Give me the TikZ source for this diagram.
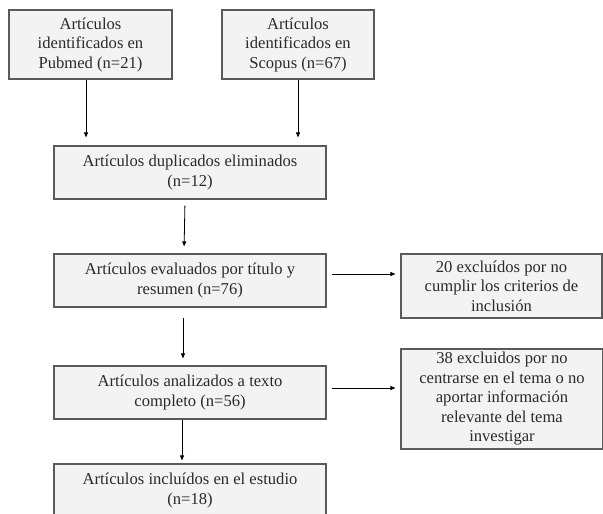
\documentclass[tikz,border=0pt]{standalone}
\usepackage{fontspec}
\setmainfont{Liberation Serif}
\usetikzlibrary{arrows.meta}
\definecolor{boxfill}{HTML}{F3F3F3}
\definecolor{boxline}{HTML}{5A5A5A}
\definecolor{txt}{HTML}{2A2A2A}
\begin{document}
\begin{tikzpicture}[x=1pt,y=-1pt,
  box/.style={draw=boxline,line width=1.2pt,fill=boxfill,text=txt,align=center,
    inner sep=0pt,font=\fontsize{16.6}{19.5}\selectfont},
  arr/.style={draw=black,line width=0.8pt,-{Triangle[length=5pt,width=4pt]}}]
\useasboundingbox (0,0) rectangle (603,514);
\node[box,minimum width=163pt,minimum height=69pt] (pub) at (90.5,44.5) {Artículos\\identificados en\\Pubmed (n=21)};
\node[box,minimum width=152pt,minimum height=69pt] (sco) at (298,44.5) {Artículos\\identificados en\\Scopus (n=67)};
\node[box,minimum width=272pt,minimum height=53pt] (dup) at (190,172.5) {Artículos duplicados eliminados\\(n=12)};
\node[box,minimum width=272pt,minimum height=53pt] (eva) at (190,280.5) {Artículos evaluados por título y\\resumen (n=76)};
\node[box,minimum width=201pt,minimum height=64pt] (ex1) at (501.5,286) {20 excluídos por no\\cumplir los criterios de\\inclusión};
\node[box,minimum width=272pt,minimum height=53pt] (ana) at (190,392.5) {Artículos analizados a texto\\completo (n=56)};
\node[box,minimum width=202pt,minimum height=100pt] (ex2) at (502,399) {38 excluidos por no\\centrarse en el tema o no\\aportar información\\relevante del tema\\investigar};
\node[box,minimum width=272pt,minimum height=53pt] (inc) at (190,490.5) {Artículos incluídos en el estudio\\(n=18)};
\draw[arr,shorten >=8pt] ([xshift=-4.5pt]pub.south) -- ([xshift=-4.5pt]pub.south |- dup.north);
\draw[arr,shorten >=8pt] (sco.south) -- (sco.south |- dup.north);
\draw[arr,shorten <=6pt,shorten >=7pt] ([xshift=-5pt]dup.south) -- ([xshift=-6pt]eva.north);
\draw[arr,shorten <=10pt,shorten >=7pt] ([xshift=-7pt]eva.south) -- ([xshift=-7pt]ana.north);
\draw[arr,shorten >=3pt] ([xshift=-8pt]ana.south) -- ([xshift=-8pt]inc.north);
\draw[arr,shorten <=5pt,shorten >=5pt] ([yshift=6.5pt]eva.east) -- ([yshift=6.5pt]eva.east -| ex1.west);
\draw[arr,shorten <=5pt,shorten >=5pt] ([yshift=4.5pt]ana.east) -- ([yshift=4.5pt]ana.east -| ex2.west);
\end{tikzpicture}
\end{document}
